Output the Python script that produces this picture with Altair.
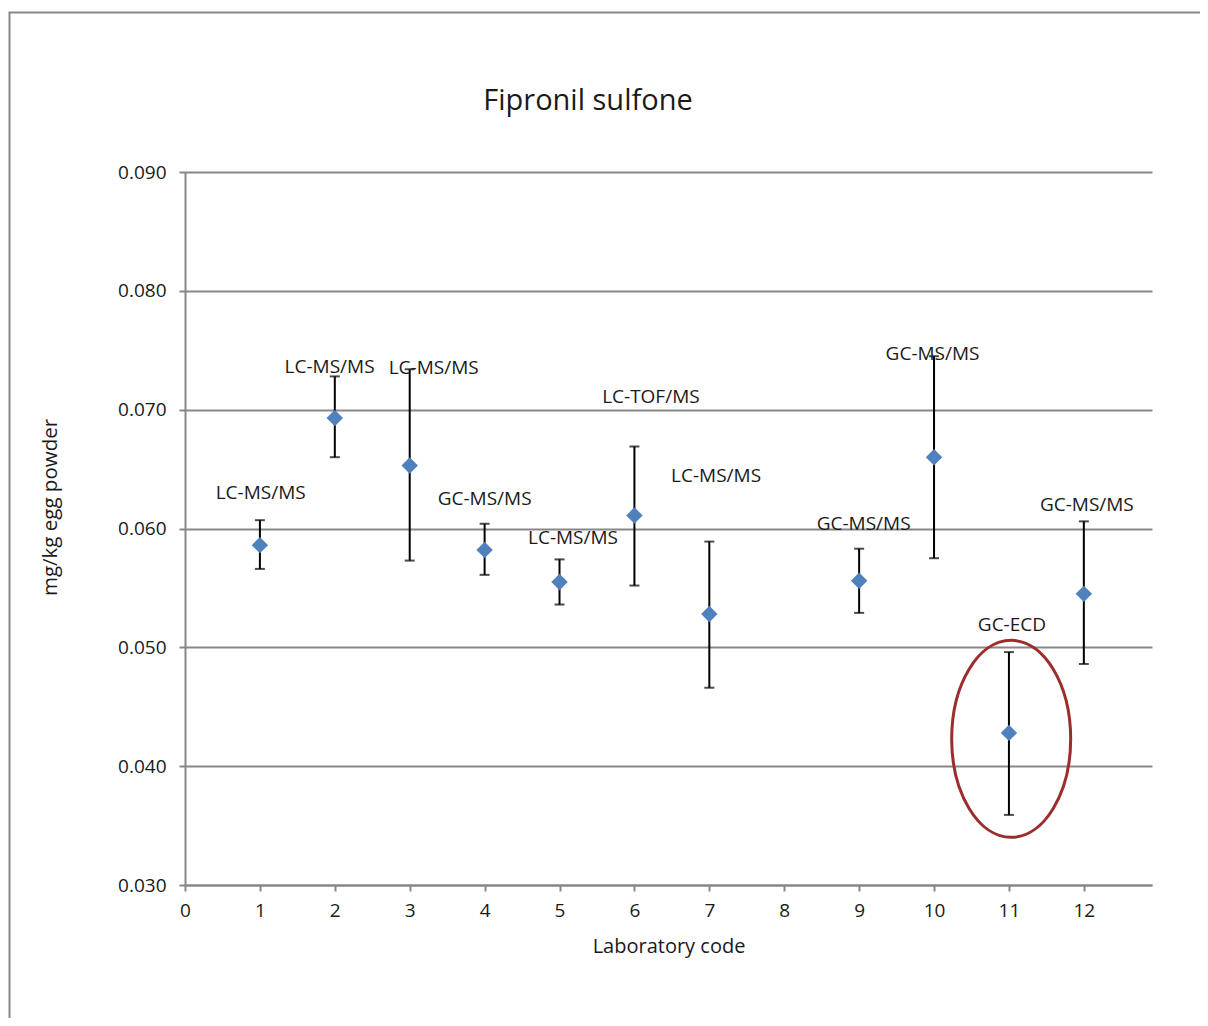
import altair as alt
import pandas as pd

# ---- data ----
labs = [1, 2, 3, 4, 5, 6, 7, 9, 10, 11, 12]
means = [0.0586, 0.0693, 0.0653, 0.0582, 0.0555, 0.0611, 0.0528, 0.0556, 0.0660, 0.0428, 0.0545]
upper = [0.0607, 0.0728, 0.0734, 0.0604, 0.0574, 0.0669, 0.0589, 0.0583, 0.0745, 0.0496, 0.0606]
lower = [0.0566, 0.0660, 0.0573, 0.0561, 0.0536, 0.0552, 0.0466, 0.0529, 0.0575, 0.0359, 0.0486]
methods = ["LC-MS/MS", "LC-MS/MS", "LC-MS/MS", "GC-MS/MS", "LC-MS/MS", "LC-TOF/MS",
           "LC-MS/MS", "GC-MS/MS", "GC-MS/MS", "GC-ECD", "GC-MS/MS"]
# data-label anchor positions (in data units, as placed in the original)
label_x = [1.01, 1.93, 3.32, 4.00, 5.18, 6.22, 7.09, 9.06, 9.98, 11.04, 12.04]
label_y = [0.0630, 0.0736, 0.0735, 0.0625, 0.0592, 0.0711, 0.0644, 0.0604, 0.0747, 0.0519, 0.0620]
x_ticks = list(range(0, 13))
y_ticks = [0.030, 0.040, 0.050, 0.060, 0.070, 0.080, 0.090]
# highlighted result (ellipse annotation)
hl_x = [11.03]
hl_y = [0.0423]

df = pd.DataFrame({"lab": labs, "mean": means, "hi": upper, "lo": lower,
                   "method": methods, "lx": label_x, "ly": label_y})
hl = pd.DataFrame({"x": hl_x, "y": hl_y})
one = pd.DataFrame({"a": [0]})

FONT = "Open Sans"
GRAY = "#878787"
TXT = "#1a1a1a"
W, H = 967, 713

xs = alt.Scale(domain=[0, 12.91], nice=False, zero=False)
ys = alt.Scale(domain=[0.030, 0.090], nice=False, zero=False)

x_axis = alt.Axis(values=x_ticks, format="d", grid=False, tickSize=6, tickWidth=2,
                  tickColor=GRAY, domainColor=GRAY, domainWidth=2, labelFlush=False,
                  labelFontSize=19, labelPadding=10, labelColor=TXT, labelFont=FONT,
                  title="Laboratory code", titleFontSize=20, titleFontWeight="normal",
                  titleColor=TXT, titleFont=FONT, titleY=61, titleBaseline="middle")
y_axis = alt.Axis(values=y_ticks, format=".3f", grid=True, gridColor=GRAY, gridWidth=2,
                  tickSize=6, tickWidth=2, tickColor=GRAY, domainColor=GRAY, domainWidth=2,
                  labelFlush=False,
                  labelFontSize=19, labelPadding=13, labelColor=TXT, labelFont=FONT,
                  title="mg/kg egg powder", titleFontSize=20.5, titleFontWeight="normal",
                  titleColor=TXT, titleFont=FONT, titleX=-135, titleY=335,
                  titleBaseline="middle", titleAngle=270)

base = alt.Chart(df)

border = alt.Chart(one).mark_rect(filled=False, stroke=GRAY, strokeWidth=2, clip=False).encode(
    x=alt.value(-175.5), x2=alt.value(W + 80), y=alt.value(-159.5), y2=alt.value(H + 160))

frame = base.mark_point(opacity=0).encode(
    x=alt.X("lab:Q", scale=xs, axis=x_axis),
    y=alt.Y("mean:Q", scale=ys, axis=y_axis))

rules = base.mark_rule(color="black", strokeWidth=2).encode(
    x=alt.X("lab:Q", scale=xs), y=alt.Y("lo:Q", scale=ys), y2="hi:Q")
caps_hi = base.mark_tick(color="black", orient="horizontal", size=10, thickness=2).encode(
    x=alt.X("lab:Q", scale=xs), y=alt.Y("hi:Q", scale=ys))
caps_lo = base.mark_tick(color="black", orient="horizontal", size=10, thickness=2).encode(
    x=alt.X("lab:Q", scale=xs), y=alt.Y("lo:Q", scale=ys))

points = base.mark_point(shape="diamond", filled=True, color="#4F81BD", size=270, opacity=1).encode(
    x=alt.X("lab:Q", scale=xs), y=alt.Y("mean:Q", scale=ys))

labels = base.mark_text(font=FONT, fontSize=19, color=TXT, align="center", baseline="middle").encode(
    x=alt.X("lx:Q", scale=xs), y=alt.Y("ly:Q", scale=ys), text="method:N")

a = 0.604
k = 0.5523
ellipse_path = (f"M {a} 0 C {a} {k} {k*a:.4f} 1 0 1 C {-k*a:.4f} 1 {-a} {k} {-a} 0 "
                f"C {-a} {-k} {-k*a:.4f} -1 0 -1 C {k*a:.4f} -1 {a} {-k} {a} 0 Z")
ellipse = alt.Chart(hl).mark_point(shape=ellipse_path, filled=False, stroke="#9B2D2D",
                                   strokeWidth=3, size=197 * 197, opacity=1).encode(
    x=alt.X("x:Q", scale=xs), y=alt.Y("y:Q", scale=ys))

title = alt.Chart(one).mark_text(text="Fipronil sulfone", font=FONT, fontSize=29, color=TXT,
                                 align="center", baseline="alphabetic").encode(
    x=alt.value(403), y=alt.value(-62.5))

chart = alt.layer(border, frame, rules, caps_hi, caps_lo, points, labels, ellipse, title).properties(
    width=W, height=H,
    background="white",
    autosize=alt.AutoSizeParams(type="none"),
    padding={"left": 177, "top": 164, "right": 48, "bottom": 133},
).configure_view(stroke=None, strokeWidth=0)

chart.save("out.html", embed_options={"renderer": "svg", "actions": False})
